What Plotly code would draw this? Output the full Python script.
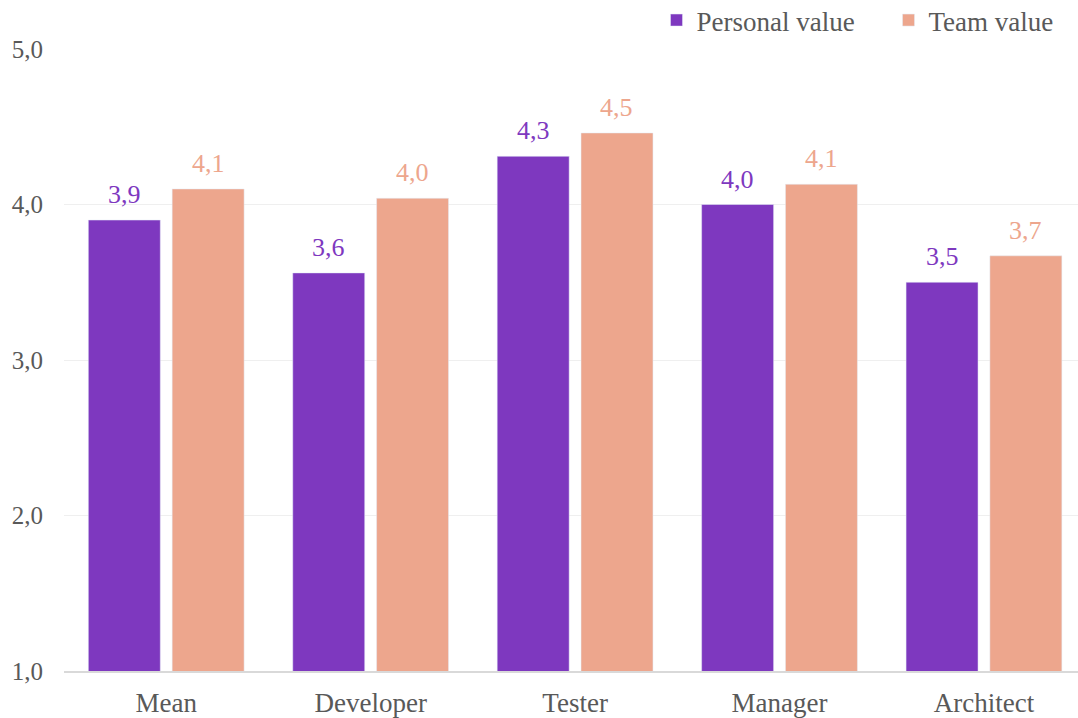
import plotly.graph_objects as go

categories = ["Mean", "Developer", "Tester", "Manager", "Architect"]
personal_value = [3.90, 3.56, 4.31, 4.00, 3.50]
team_value = [4.10, 4.04, 4.46, 4.13, 3.67]

PURPLE = "#7E38BF"
SALMON = "#EDA68D"
FONT = "Liberation Serif, Times New Roman, serif"
BAR_W = 0.352
OFFS = {"p": -0.381, "t": 0.029}
UNIT_PX = 1014 / 4.96

fig = go.Figure()
fig.add_trace(go.Bar(
    name="Personal value", x=categories, y=personal_value,
    marker=dict(color=PURPLE), width=BAR_W, offset=OFFS["p"],
))
fig.add_trace(go.Bar(
    name="Team value", x=categories, y=team_value,
    marker=dict(color=SALMON), width=BAR_W, offset=OFFS["t"],
))

annotations = []
for vals, key, color in [(personal_value, "p", PURPLE), (team_value, "t", SALMON)]:
    shift = (OFFS[key] + BAR_W / 2) * UNIT_PX
    for c, v in zip(categories, vals):
        annotations.append(dict(
            x=c, y=v, xref="x", yref="y", text=f"{v:.1f}".replace(".", ","),
            showarrow=False, xshift=shift, yshift=9, yanchor="bottom",
            font=dict(family=FONT, size=26, color=color),
        ))

fig.update_layout(
    width=1078, height=718,
    margin=dict(l=64, r=0, t=49, b=47, autoexpand=False),
    plot_bgcolor="white", paper_bgcolor="white",
    separators=",.",
    barmode="group",
    font=dict(family=FONT, size=26, color="#595959"),
    showlegend=True,
    annotations=annotations,
    legend=dict(orientation="h", x=0.609, xanchor="left", xref="container",
                y=1.0852, yanchor="top", yref="paper",
                font=dict(family=FONT, size=27, color="#595959"),
                itemwidth=30, entrywidth=187, entrywidthmode="pixels",
                traceorder="normal", bgcolor="rgba(0,0,0,0)"),
)
fig.update_xaxes(
    range=[-0.5, 4.46], showgrid=False, showline=True, linecolor="#D9D9D9", linewidth=1.5,
    ticks="", ticklabelstandoff=7, tickfont=dict(family=FONT, size=27, color="#595959"),
)
fig.update_yaxes(
    range=[1, 5], tickvals=[1, 2, 3, 4, 5], tickformat=".1f",
    showgrid=True, gridcolor="#EFEFEF", gridwidth=1.2, zeroline=False,
    showline=False, ticks="", ticklabelstandoff=20,
    tickfont=dict(family=FONT, size=25, color="#595959"),
)
fig.write_html("out.html", config={"displayModeBar": False},
               post_script="document.body.style.margin='0';document.body.style.overflow='hidden';")
